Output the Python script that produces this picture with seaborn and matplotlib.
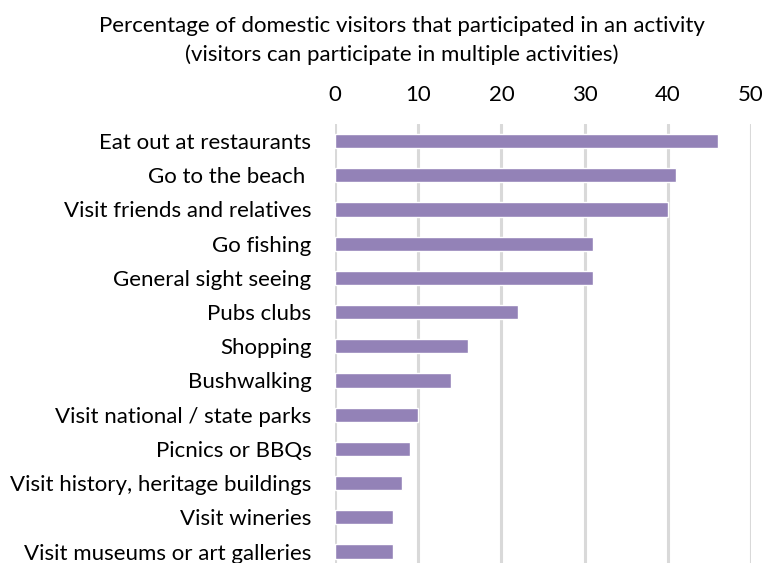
import matplotlib
matplotlib.use("Agg")
import matplotlib.pyplot as plt
import seaborn as sns
import pandas as pd

activities = [
    "Eat out at restaurants",
    "Go to the beach ",
    "Visit friends and relatives",
    "Go fishing",
    "General sight seeing",
    "Pubs clubs",
    "Shopping",
    "Bushwalking",
    "Visit national / state parks",
    "Picnics or BBQs",
    "Visit history, heritage buildings",
    "Visit wineries",
    "Visit museums or art galleries",
]
percent = [46, 41, 40, 31, 31, 22, 16, 14, 10, 9, 8, 7, 7]
xticks = [0, 10, 20, 30, 40, 50]
title_line1 = "Percentage of domestic visitors that participated in an activity"
title_line2 = "(visitors can participate in multiple activities)"

sns.set_theme(style="white")
plt.rcParams["font.family"] = ["Lato", "DejaVu Sans"]

df = pd.DataFrame({"activity": activities, "percent": percent})

fig = plt.figure(figsize=(7.76, 5.63), dpi=100)
ax = fig.add_axes([335 / 776, -5.6 / 563, 416 / 776, (563 - 124 + 5.6) / 563])

sns.barplot(data=df, y="activity", x="percent", orient="h", color="#9382B7",
            saturation=1, width=0.41, ax=ax, zorder=3)

ax.set_xlim(0, 50)
ax.set_ylim(12.5, -0.5)
ax.set_xticks(xticks)
ax.xaxis.tick_top()
ax.xaxis.set_label_position("top")
ax.grid(axis="x", color="#D9D9D9", linewidth=2.2, zorder=0)
ax.grid(axis="y", visible=False)
ax.set_axisbelow(True)
for s in ax.spines.values():
    s.set_visible(False)
ax.set_xlabel("")
ax.set_ylabel("")
ax.tick_params(axis="x", length=0, pad=14, labelsize=16, colors="#000000")
ax.tick_params(axis="y", length=0, pad=17, labelsize=16, colors="#000000")

fig.text(402 / 776, 1 - 26 / 563, title_line1, ha="center", va="center",
         fontsize=16, color="#000000")
fig.text(402 / 776, 1 - 55 / 563, title_line2, ha="center", va="center",
         fontsize=16, color="#000000")

fig.savefig("out.png", dpi=100)
